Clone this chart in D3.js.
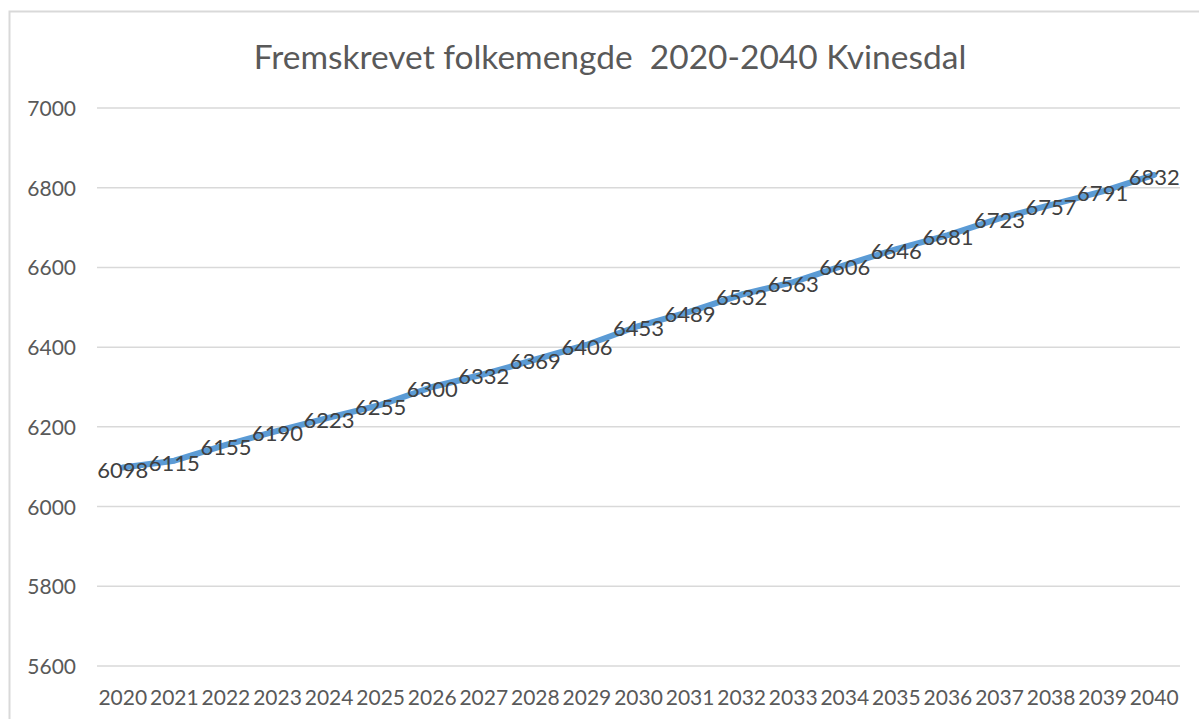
<!DOCTYPE html>
<html>
<head>
<meta charset="utf-8">
<script src="https://cdn.jsdelivr.net/npm/d3@7"></script>
<style>
  body { margin: 0; background: #fff; }
  text { font-family: Lato, "Open Sans", sans-serif; }
</style>
</head>
<body>
<script>
// data
var years = ["2020","2021","2022","2023","2024","2025","2026","2027","2028","2029","2030",
             "2031","2032","2033","2034","2035","2036","2037","2038","2039","2040"];
var population = [6098, 6115, 6155, 6190, 6223, 6255, 6300, 6332, 6369, 6406, 6453,
                  6489, 6532, 6563, 6606, 6646, 6681, 6723, 6757, 6791, 6832];
var yTicks = [5600, 5800, 6000, 6200, 6400, 6600, 6800, 7000];
var title = "Fremskrevet folkemengde\u00a0 2020-2040 Kvinesdal";

var w = 1199, h = 719;

var svg = d3.select("body").append("svg")
  .attr("width", w)
  .attr("height", h);

// chart frame (runs off the right and bottom edges)
svg.append("rect")
  .attr("x", 9.5).attr("y", 11.5)
  .attr("width", 1300).attr("height", 800)
  .attr("fill", "#fff")
  .attr("stroke", "#d9d9d9")
  .attr("stroke-width", 2);

var x = d3.scaleBand().domain(years).range([97, 1180]);
var y = d3.scaleLinear().domain([5600, 7000]).range([666, 108]);

// title
svg.append("text")
  .attr("x", 610).attr("y", 69)
  .attr("text-anchor", "middle")
  .attr("fill", "#595959")
  .style("font-size", "33.5px")
  .text(title);

// gridlines
svg.append("g").selectAll("line")
  .data(yTicks)
  .enter().append("line")
  .attr("x1", 97).attr("x2", 1180)
  .attr("y1", function(d) { return y(d); })
  .attr("y2", function(d) { return y(d); })
  .attr("stroke", "#d9d9d9")
  .attr("stroke-width", 1.5);

// y labels
svg.append("g").selectAll("text")
  .data(yTicks)
  .enter().append("text")
  .attr("x", 76)
  .attr("y", function(d) { return y(d) + 8; })
  .attr("text-anchor", "end")
  .attr("fill", "#595959")
  .style("font-size", "21px")
  .text(function(d) { return d; });

// x labels
svg.append("g").selectAll("text")
  .data(years)
  .enter().append("text")
  .attr("x", function(d) { return x(d) + x.bandwidth() / 2; })
  .attr("y", 705)
  .attr("text-anchor", "middle")
  .attr("fill", "#595959")
  .style("font-size", "21px")
  .text(function(d) { return d; });

// line
var line = d3.line()
  .x(function(d, i) { return x(years[i]) + x.bandwidth() / 2; })
  .y(function(d) { return y(d); });

svg.append("path")
  .datum(population)
  .attr("d", line)
  .attr("fill", "none")
  .attr("stroke", "#5b9bd5")
  .attr("stroke-width", 6)
  .attr("stroke-linejoin", "round")
  .attr("stroke-linecap", "round");

// data labels
svg.append("g").selectAll("text")
  .data(population)
  .enter().append("text")
  .attr("x", function(d, i) { return x(years[i]) + x.bandwidth() / 2; })
  .attr("y", function(d) { return y(d) + 10; })
  .attr("text-anchor", "middle")
  .attr("fill", "#404040")
  .style("font-size", "22px")
  .text(function(d) { return d; });
</script>
</body>
</html>
